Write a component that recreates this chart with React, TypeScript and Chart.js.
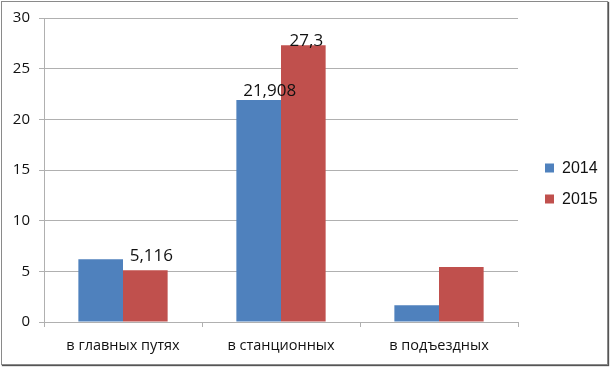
import React, { useEffect, useRef } from "react";
import { Chart, registerables } from "chart.js";

Chart.register(...registerables);

const categories = ["в главных путях", "в станционных", "в подъездных"];
const seriesNames = ["2014", "2015"];
const values2014 = [6.2, 21.908, 1.65];
const values2015 = [5.116, 27.3, 5.43];
const labels2014: (string | null)[] = [null, "21,908", null];
const labels2015: (string | null)[] = ["5,116", "27,3", null];
const yTicks = [0, 5, 10, 15, 20, 25, 30];

const BLUE = "#4F81BD";
const RED = "#C0504D";
const GRID = "#b0b0b0";

const valueLabelPlugin = {
  id: "valueLabels",
  afterDatasetsDraw(chart: any) {
    const ctx = chart.ctx;
    const sets = [labels2014, labels2015];
    const offsets = [
      [[0, 0], [11, -4], [0, 0]],
      [[6, -10], [3, 0], [0, 0]],
    ];
    ctx.save();
    ctx.font = "17px 'Open Sans'";
    ctx.fillStyle = "#111";
    ctx.textAlign = "center";
    ctx.textBaseline = "bottom";
    sets.forEach((arr, di) => {
      const meta = chart.getDatasetMeta(di);
      arr.forEach((txt, i) => {
        if (!txt) return;
        const el = meta.data[i];
        const [dx, dy] = offsets[di][i];
        ctx.fillText(txt, el.x + dx, el.y + dy + 4);
      });
    });
    ctx.restore();
  },
};

const legendPlugin = {
  id: "sideLegend",
  afterDraw(chart: any) {
    const ctx = chart.ctx;
    ctx.save();
    ctx.font = "16px 'Liberation Sans'";
    ctx.textBaseline = "middle";
    ctx.textAlign = "left";
    const ys = [168, 199];
    chart.data.datasets.forEach((ds: any, i: number) => {
      ctx.fillStyle = ds.backgroundColor;
      ctx.fillRect(545, ys[i] - 4.5, 9, 9);
      ctx.fillStyle = "#111";
      ctx.fillText(ds.label, 562, ys[i] + 1);
    });
    ctx.restore();
  },
};

export default function App() {
  const ref = useRef<HTMLCanvasElement>(null);
  useEffect(() => {
    if (!ref.current) return;
    const chart = new Chart(ref.current, {
      type: "bar",
      data: {
        labels: categories,
        datasets: [
          { label: seriesNames[0], data: values2014, backgroundColor: BLUE },
          { label: seriesNames[1], data: values2015, backgroundColor: RED },
        ],
      },
      options: {
        animation: false,
        responsive: false,
        maintainAspectRatio: false,
        layout: { padding: { top: 18, right: 93, bottom: 0, left: 0 } },
        datasets: {
          bar: { categoryPercentage: 0.565, barPercentage: 1.0 },
        },
        plugins: {
          legend: { display: false },
          tooltip: { enabled: false },
        },
        scales: {
          x: {
            grid: {
              offset: true,
              drawOnChartArea: false,
              drawTicks: true,
              tickLength: 5,
              color: GRID,
            },
            border: { color: GRID },
            ticks: {
              font: { family: "'Open Sans'", size: 14.5 },
              color: "#111",
              padding: 10,
            },
            afterFit: (s: any) => {
              s.height = 45;
            },
          },
          y: {
            min: 0,
            max: 30,
            afterBuildTicks: (s: any) => {
              s.ticks = yTicks.map((v) => ({ value: v }));
            },
            grid: { color: GRID, tickLength: 5 },
            border: { color: GRID },
            ticks: {
              font: { family: "'Open Sans'", size: 15 },
              color: "#111",
              padding: 9,
            },
            afterFit: (s: any) => {
              s.width = 44;
            },
          },
        },
      },
      plugins: [valueLabelPlugin, legendPlugin],
    });
    return () => chart.destroy();
  }, []);

  return (
    <div
      style={{
        position: "fixed",
        left: 0,
        top: 0,
        width: 611,
        height: 367,
        background: "#fff",
      }}
    >
      <div
        style={{
          position: "absolute",
          left: 1,
          top: 1,
          width: 605,
          height: 362,
          border: "1px solid #8a8a8a",
          boxShadow: "1px 1px 1px #555",
        }}
      />
      <canvas
        ref={ref}
        width={611}
        height={367}
        style={{ position: "absolute", left: 0, top: 0, width: 611, height: 367 }}
      />
    </div>
  );
}
